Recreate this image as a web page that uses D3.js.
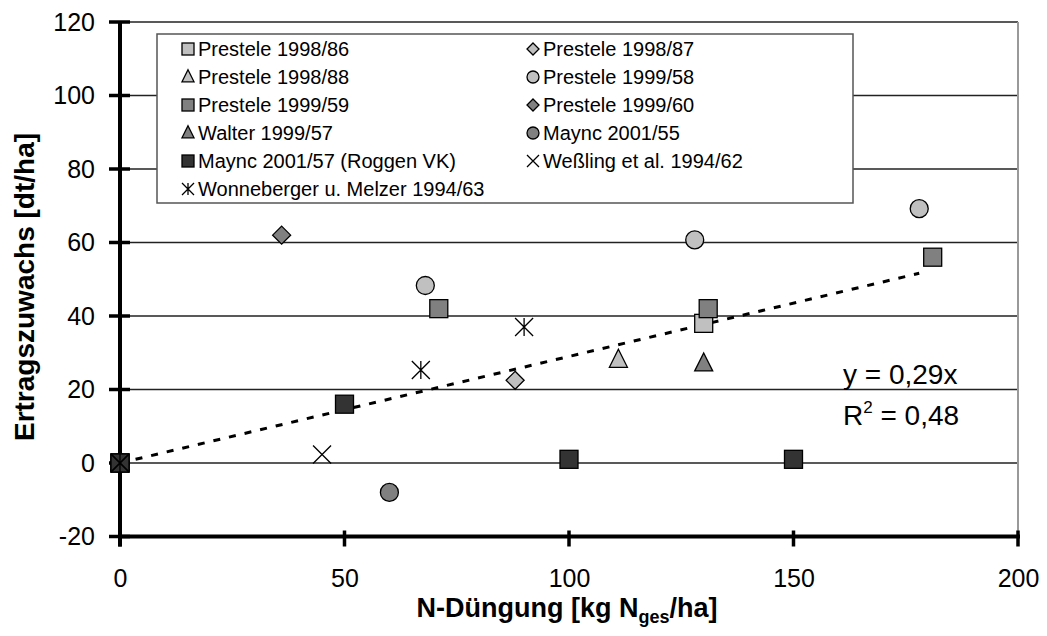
<!DOCTYPE html>
<html><head><meta charset="utf-8">
<script src="https://d3js.org/d3.v7.min.js"></script>
<style>body{margin:0;background:#fff}svg{display:block;font-family:"Liberation Sans",Arial,sans-serif}</style>
</head><body><svg id="c" width="1047" height="636"></svg>
<script>
const seriesNames = ["Prestele 1998/86","Prestele 1998/87","Prestele 1998/88","Prestele 1999/58","Prestele 1999/59","Prestele 1999/60","Walter 1999/57","Maync 2001/55","Maync 2001/57 (Roggen VK)","Weßling et al. 1994/62","Wonneberger u. Melzer 1994/63"];
const seriesShapes = ["square","diamond","triangle","circle","square","diamond","triangle","circle","square","x","asterisk"];
const seriesFills = ["#c0c0c0","#c0c0c0","#c0c0c0","#c0c0c0","#808080","#808080","#808080","#808080","#333333","none","none"];
const s1998_86 = [[0,0],[130,38]];
const s1998_87 = [[0,0],[88,22.5]];
const s1998_88 = [[0,0],[111,28]];
const s1999_58 = [[0,0],[68,48.3],[128,60.7],[178,69.2]];
const s1999_59 = [[0,0],[71,42],[131,42],[181,56]];
const s1999_60 = [[0,0],[36,62]];
const walter = [[0,0],[130,27]];
const maync55 = [[0,0],[60,-8]];
const maync57 = [[0,0],[50,16],[100,1],[150,1]];
const wessling = [[0,0],[45,2.3]];
const wonneberger = [[0,0],[67,25.3],[90,37]];
const seriesData = [s1998_86,s1998_87,s1998_88,s1999_58,s1999_59,s1999_60,walter,maync55,maync57,wessling,wonneberger];
const xTicks = [0,50,100,150,200];
const yTicks = [-20,0,20,40,60,80,100,120];
const trendSlope = 0.29, trendX = [0,178];
const FONT = '"Liberation Sans",Arial,sans-serif';

const svg = d3.select("#c");
const x = d3.scaleLinear().domain([0,200]).range([120,1018]);
const y = d3.scaleLinear().domain([-20,120]).range([536.5,22]);

// gridlines
svg.append("g").selectAll("line").data(yTicks.filter(d=>d>-20)).join("line")
  .attr("x1",x(0)).attr("x2",x(200)).attr("y1",d=>y(d)).attr("y2",d=>y(d))
  .attr("stroke","#222").attr("stroke-width",1.4);
// right border
svg.append("line").attr("x1",x(200)).attr("x2",x(200)).attr("y1",y(120)).attr("y2",y(-20))
  .attr("stroke","#999").attr("stroke-width",2);

// axes
const yAxis = d3.axisLeft(y).tickValues(yTicks).tickSize(0).tickPadding(25).tickFormat(d=>String(d));
const gy = svg.append("g").attr("transform",`translate(${x(0)},0)`).call(yAxis);
gy.select(".domain").remove();
gy.selectAll("text").attr("font-size",25).attr("font-family",FONT).attr("fill","#000");
svg.append("g").selectAll("line").data(yTicks).join("line")
  .attr("x1",x(0)-11).attr("x2",x(0)+10).attr("y1",d=>y(d)).attr("y2",d=>y(d))
  .attr("stroke","#000").attr("stroke-width",3.5);
const xAxis = d3.axisBottom(x).tickValues(xTicks).tickSize(0).tickPadding(33).tickFormat(d=>String(d));
const gx = svg.append("g").attr("transform",`translate(0,${y(-20)})`).call(xAxis);
gx.select(".domain").remove();
gx.selectAll("text").attr("font-size",25).attr("font-family",FONT).attr("fill","#000");
svg.append("g").selectAll("line").data(xTicks).join("line")
  .attr("x1",d=>x(d)).attr("x2",d=>x(d)).attr("y1",y(-20)-6).attr("y2",y(-20)+10)
  .attr("stroke","#000").attr("stroke-width",3.5);
svg.append("line").attr("x1",x(0)).attr("x2",x(0)).attr("y1",y(120)).attr("y2",y(-20)+10)
  .attr("stroke","#000").attr("stroke-width",4);
svg.append("line").attr("x1",x(0)-2).attr("x2",x(200)+2).attr("y1",y(-20)).attr("y2",y(-20))
  .attr("stroke","#000").attr("stroke-width",4);

// axis titles
svg.append("text").attr("x",567).attr("y",617).attr("text-anchor","middle")
  .attr("font-size",27).attr("font-weight","bold")
  .html('N-Düngung [kg N<tspan font-size="18" dy="6">ges</tspan><tspan dy="-6">/ha]</tspan>');
svg.append("text").attr("transform","translate(34,287) rotate(-90)").attr("text-anchor","middle")
  .attr("font-size",28).attr("font-weight","bold").text("Ertragszuwachs [dt/ha]");

function drawMarker(g, shape, fill, s){
  if(shape==="square") g.append("rect").attr("x",-s/2).attr("y",-s/2).attr("width",s).attr("height",s)
      .attr("fill",fill).attr("stroke","#000").attr("stroke-width",1.3);
  else if(shape==="circle") g.append("circle").attr("r",s/2).attr("fill",fill).attr("stroke","#000").attr("stroke-width",1.3);
  else if(shape==="diamond") g.append("path").attr("d",`M0,${-s/2}L${s/2},0L0,${s/2}L${-s/2},0Z`)
      .attr("fill",fill).attr("stroke","#000").attr("stroke-width",1.3);
  else if(shape==="triangle") g.append("path").attr("d",`M0,${-s*0.6}L${s/2},${s*0.4}L${-s/2},${s*0.4}Z`)
      .attr("fill",fill).attr("stroke","#000").attr("stroke-width",1.3);
  else if(shape==="x") g.append("path").attr("d",`M${-s/2},${-s/2}L${s/2},${s/2}M${-s/2},${s/2}L${s/2},${-s/2}`)
      .attr("fill","none").attr("stroke","#000").attr("stroke-width",1.3);
  else if(shape==="asterisk") g.append("path").attr("d",`M${-s/2},${-s/2}L${s/2},${s/2}M${-s/2},${s/2}L${s/2},${-s/2}M0,${-s/2}L0,${s/2}`)
      .attr("fill","none").attr("stroke","#000").attr("stroke-width",1.3);
}

// trendline
svg.append("line").attr("x1",x(trendX[0])).attr("y1",y(trendX[0]*trendSlope))
  .attr("x2",x(trendX[1])).attr("y2",y(trendX[1]*trendSlope))
  .attr("stroke","#000").attr("stroke-width",3).attr("stroke-dasharray","7,9");

// points
seriesData.forEach((data,i)=>{
  data.forEach(p=>{
    const g = svg.append("g").attr("transform",`translate(${x(p[0])},${y(p[1])})`);
    drawMarker(g, seriesShapes[i], seriesFills[i], 18);
  });
});

// equation
svg.append("text").attr("x",843).attr("y",384).attr("font-size",28).text("y = 0,29x");
svg.append("text").attr("x",843).attr("y",425).attr("font-size",28)
  .html('R<tspan font-size="17" dy="-12">2</tspan><tspan dy="12"> = 0,48</tspan>');

// legend
svg.append("rect").attr("x",157).attr("y",34).attr("width",696).attr("height",169)
  .attr("fill","#fff").attr("stroke","#555").attr("stroke-width",1.5);
seriesNames.forEach((n,i)=>{
  const col = i%2, row = Math.floor(i/2);
  const lx = col===0 ? 188 : 533, ly = 49 + row*28;
  const g = svg.append("g").attr("transform",`translate(${lx},${ly})`);
  drawMarker(g, seriesShapes[i], seriesFills[i], 12);
  svg.append("text").attr("x",lx+10).attr("y",ly+7).attr("font-size",20).text(n);
});
</script></body></html>
